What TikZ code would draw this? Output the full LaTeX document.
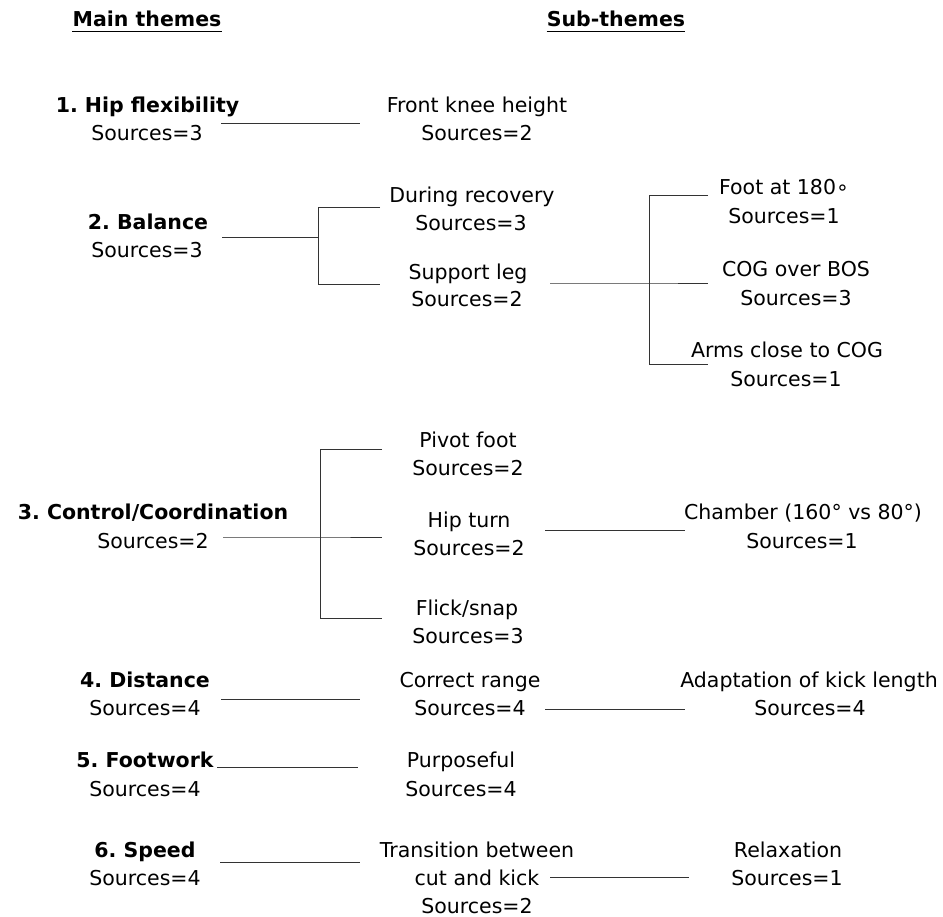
\documentclass[tikz,border=0pt]{standalone}
\usepackage{fontspec}
\setmainfont{DejaVu Sans}
\frenchspacing
\begin{document}
\begin{tikzpicture}[x=1pt,y=-1pt,
  txt/.style={anchor=base, inner sep=0pt, font=\fontsize{20.5}{28}\selectfont},
  ttl/.style={anchor=base, inner sep=0pt, font=\fontsize{20.5}{28}\selectfont\bfseries},
  conn/.style={draw=black!80, line width=0.9pt},
  ul/.style={draw=black, line width=1.6pt}]
\useasboundingbox (0,0) rectangle (943,917);

% headings
\node[ttl] (h1) at (147,27) {Main themes};
\node[ttl] (h2) at (616,27) {Sub-themes};
\draw[ul] ([yshift=-4.5pt]h1.base west) -- ([yshift=-4.5pt]h1.base east);
\draw[ul] ([yshift=-4.5pt]h2.base west) -- ([yshift=-4.5pt]h2.base east);

% 1
\node[ttl] (m1) at (147.5,113) {1. Hip flexibility};
\node[txt] (m1s) at (147,141) {Sources=3};
\node[txt] (s1) at (477,113) {Front knee height};
\node[txt] (s1s) at (477,141) {Sources=2};
\coordinate (a1) at (221,123); \coordinate (b1) at (360,123);
\draw[conn] (a1) -- (b1);

% 2
\node[ttl] (m2) at (148,230) {2. Balance};
\node[txt] (m2s) at (147,258) {Sources=3};
\node[txt] (s2a) at (472,203) {During recovery};
\node[txt] (s2as) at (471,231) {Sources=3};
\node[txt] (s2b) at (468,280) {Support leg};
\node[txt] (s2bs) at (467,307) {Sources=2};
\node[txt] (t2a) at (784,195) {Foot at 180∘};
\node[txt] (t2as) at (784,224) {Sources=1};
\node[txt] (t2b) at (796,277) {COG over BOS};
\node[txt] (t2bs) at (796,306) {Sources=3};
\node[txt] (t2c) at (787,358) {Arms close to COG};
\node[txt] (t2cs) at (786,387) {Sources=1};
\coordinate (a2) at (222,237); \coordinate (j2) at (318,237);
\coordinate (j2t) at (318,207); \coordinate (j2b) at (318,284);
\coordinate (e2t) at (380,207); \coordinate (e2b) at (380,284);
\draw[conn] (a2) -- (j2);
\draw[conn] (e2t) -- (j2t) -- (j2b) -- (e2b);
\coordinate (a2b) at (550,283); \coordinate (k2) at (649,283);
\coordinate (k2t) at (649,195); \coordinate (k2b) at (649,364);
\coordinate (f2t) at (708,195); \coordinate (f2m) at (708,283); \coordinate (f2b) at (708,364);
\draw[conn] (a2b) -- (k2) -- (f2m);
\draw[conn] (f2t) -- (k2t) -- (k2b) -- (f2b);

% 3
\node[ttl] (m3) at (153,519) {3. Control/Coordination};
\node[txt] (m3s) at (153,548) {Sources=2};
\node[txt] (s3a) at (468,447) {Pivot foot};
\node[txt] (s3as) at (468,475) {Sources=2};
\node[txt] (s3b) at (469,527) {Hip turn};
\node[txt] (s3bs) at (469,555) {Sources=2};
\node[txt] (s3c) at (467,615) {Flick/snap};
\node[txt] (s3cs) at (468,643) {Sources=3};
\node[txt] (t3) at (803,519) {Chamber (160° vs 80°)};
\node[txt] (t3s) at (802,548) {Sources=1};
\coordinate (a3) at (223,537); \coordinate (j3) at (320,537);
\coordinate (j3t) at (320,449); \coordinate (j3b) at (320,618);
\coordinate (e3t) at (382,449); \coordinate (e3m) at (382,537); \coordinate (e3b) at (382,618);
\draw[conn] (a3) -- (j3) -- (e3m);
\draw[conn] (e3t) -- (j3t) -- (j3b) -- (e3b);
\coordinate (a3b) at (545,530); \coordinate (b3b) at (685,530);
\draw[conn] (a3b) -- (b3b);

% 4
\node[ttl] (m4) at (145,687) {4. Distance};
\node[txt] (m4s) at (145,715) {Sources=4};
\node[txt] (s4) at (470,687) {Correct range};
\node[txt] (s4s) at (470,715) {Sources=4};
\node[txt] (t4) at (809,687) {Adaptation of kick length};
\node[txt] (t4s) at (810,715) {Sources=4};
\coordinate (a4) at (221,699); \coordinate (b4) at (360,699);
\draw[conn] (a4) -- (b4);
\coordinate (a4b) at (545,709); \coordinate (b4b) at (685,709);
\draw[conn] (a4b) -- (b4b);

% 5
\node[ttl] (m5) at (145,767) {5. Footwork};
\node[txt] (m5s) at (145,796) {Sources=4};
\node[txt] (s5) at (461,767) {Purposeful};
\node[txt] (s5s) at (461,796) {Sources=4};
\coordinate (a5) at (217,767); \coordinate (b5) at (358,767);
\draw[conn] (a5) -- (b5);

% 6
\node[ttl] (m6) at (145,857) {6. Speed};
\node[txt] (m6s) at (145,885) {Sources=4};
\node[txt] (s6) at (477,857) {Transition between};
\node[txt] (s6b) at (477,885) {cut and kick};
\node[txt] (s6s) at (477,913) {Sources=2};
\node[txt] (t6) at (788,857) {Relaxation};
\node[txt] (t6s) at (787,885) {Sources=1};
\coordinate (a6) at (220,862); \coordinate (b6) at (360,862);
\draw[conn] (a6) -- (b6);
\coordinate (a6b) at (550,877); \coordinate (b6b) at (689,877);
\draw[conn] (a6b) -- (b6b);
\end{tikzpicture}
\end{document}
